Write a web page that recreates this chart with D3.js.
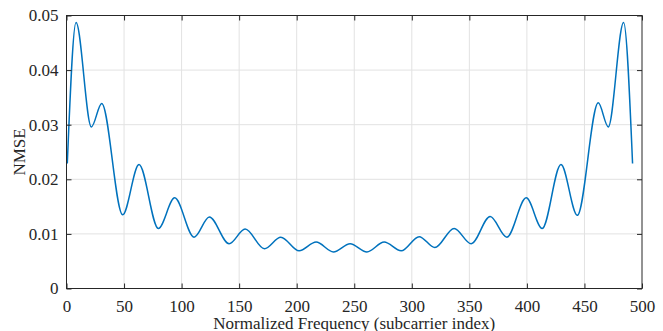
<!DOCTYPE html>
<html>
<head>
<meta charset="utf-8">
<script src="https://cdn.jsdelivr.net/npm/d3@7"></script>
<style>
  body { margin: 0; background: #fff; }
  svg text { font-family: "Liberation Serif", "Times New Roman", serif; fill: #262626; }
</style>
</head>
<body>
<div id="chart"></div>
<script>
// subcarrier index of the curve's turning points
const subcarrier = [0.7, 8.3, 21.6, 30.6, 48.8, 63.0, 79.8, 94.0, 110.8, 124.1, 141.3, 155.2,
  172.0, 186.2, 202.1, 216.9, 231.9, 246.4, 261.0, 276.0, 290.8, 306.4, 320.0, 336.8,
  351.6, 368.1, 382.6, 399.4, 413.3, 429.6, 443.8, 462.0, 470.7, 484.0, 491.8];
const nmse = [0.0229, 0.0487, 0.0296, 0.0339, 0.0135, 0.0227, 0.0110, 0.0166, 0.0094, 0.0131, 0.0082, 0.0109,
  0.0073, 0.0094, 0.0069, 0.0085, 0.0067, 0.0082, 0.0067, 0.0085, 0.0069, 0.0095, 0.0075, 0.0110,
  0.0082, 0.0132, 0.0094, 0.0166, 0.0110, 0.0227, 0.0134, 0.0340, 0.0296, 0.0487, 0.0229];
const xTicks = [0, 50, 100, 150, 200, 250, 300, 350, 400, 450, 500];
const yTicks = [0, 0.01, 0.02, 0.03, 0.04, 0.05];

const W = 663, H = 331;
const margin = { top: 15.5, right: 21, bottom: 42.5, left: 66.5 };
const width = W - margin.left - margin.right;
const height = H - margin.top - margin.bottom;

const svg = d3.select("#chart").append("svg")
  .attr("width", W).attr("height", H)
  .append("g")
  .attr("transform", "translate(" + margin.left + "," + margin.top + ")");

const x = d3.scaleLinear().domain([0, 500]).range([0, width]);
const y = d3.scaleLinear().domain([0, 0.05]).range([height, 0]);

// grid
svg.append("g").selectAll("line").data(xTicks.slice(1, -1)).enter().append("line")
  .attr("x1", d => x(d)).attr("x2", d => x(d))
  .attr("y1", 0).attr("y2", height)
  .attr("stroke", "#e2e2e2").attr("stroke-width", 1);
svg.append("g").selectAll("line").data(yTicks.slice(1, -1)).enter().append("line")
  .attr("x1", 0).attr("x2", width)
  .attr("y1", d => y(d)).attr("y2", d => y(d))
  .attr("stroke", "#e2e2e2").attr("stroke-width", 1);

// curve
const pts = subcarrier.map((s, i) => [s, nmse[i]]);
svg.append("path")
  .datum(pts)
  .attr("fill", "none")
  .attr("stroke", "#0072BD")
  .attr("stroke-width", 1.5)
  .attr("d", d3.line().x(d => x(d[0])).y(d => y(d[1])).curve(d3.curveMonotoneX));

// axes, ticks inside
const fmtY = d => d === 0 ? "0" : d3.format(".2f")(d);
const ax = (g) => g.selectAll(".domain").remove();

svg.append("g")
  .attr("transform", "translate(0," + height + ")")
  .call(d3.axisBottom(x).tickValues(xTicks).tickSizeInner(-5).tickSizeOuter(0).tickPadding(11))
  .call(ax)
  .call(g => g.selectAll("text").style("font-size", "17px"))
  .call(g => g.selectAll("line").attr("stroke", "#262626"));
svg.append("g")
  .call(d3.axisTop(x).tickValues(xTicks).tickSizeInner(-5).tickSizeOuter(0).tickFormat(""))
  .call(ax)
  .call(g => g.selectAll("line").attr("stroke", "#262626"));
svg.append("g")
  .call(d3.axisLeft(y).tickValues(yTicks).tickFormat(fmtY).tickSizeInner(-5).tickSizeOuter(0).tickPadding(8))
  .call(ax)
  .call(g => g.selectAll("text").style("font-size", "17px"))
  .call(g => g.selectAll("line").attr("stroke", "#262626"));
svg.append("g")
  .attr("transform", "translate(" + width + ",0)")
  .call(d3.axisRight(y).tickValues(yTicks).tickSizeInner(-5).tickSizeOuter(0).tickFormat(""))
  .call(ax)
  .call(g => g.selectAll("line").attr("stroke", "#262626"));

// box
svg.append("rect")
  .attr("x", 0).attr("y", 0).attr("width", width).attr("height", height)
  .attr("fill", "none").attr("stroke", "#262626").attr("stroke-width", 1);

// labels
svg.append("text")
  .attr("x", width / 2).attr("y", height + 40.5)
  .attr("text-anchor", "middle")
  .style("font-size", "17px")
  .text("Normalized Frequency (subcarrier index)");
svg.append("text")
  .attr("transform", "rotate(-90)")
  .attr("x", -height / 2).attr("y", -41.5)
  .attr("text-anchor", "middle")
  .style("font-size", "17px")
  .text("NMSE");
</script>
</body>
</html>
